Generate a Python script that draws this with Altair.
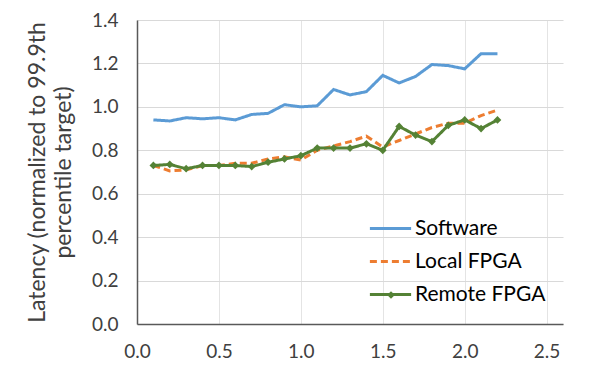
import altair as alt
import pandas as pd

x_vals = [0.1, 0.2, 0.3, 0.4, 0.5, 0.6, 0.7, 0.8, 0.9, 1.0, 1.1,
          1.2, 1.3, 1.4, 1.5, 1.6, 1.7, 1.8, 1.9, 2.0, 2.1, 2.2]
software = [0.94, 0.935, 0.95, 0.945, 0.95, 0.94, 0.965, 0.97, 1.01, 1.0, 1.005,
            1.08, 1.055, 1.07, 1.145, 1.11, 1.14, 1.195, 1.19, 1.175, 1.245, 1.245]
local_fpga = [0.73, 0.705, 0.71, 0.73, 0.73, 0.74, 0.74, 0.76, 0.77, 0.755, 0.80,
              0.82, 0.84, 0.865, 0.815, 0.845, 0.875, 0.905, 0.925, 0.925, 0.96, 0.985]
remote_fpga = [0.73, 0.735, 0.715, 0.73, 0.73, 0.73, 0.725, 0.745, 0.76, 0.775, 0.81,
               0.81, 0.81, 0.83, 0.80, 0.91, 0.87, 0.84, 0.915, 0.94, 0.90, 0.94]

series_names = ["Software", "Local FPGA", "Remote FPGA"]
series_colors = ["#5B9BD5", "#ED7D31", "#548235"]

rows = []
for name, vals in zip(series_names, [software, local_fpga, remote_fpga]):
    for xv, yv in zip(x_vals, vals):
        rows.append({"x": xv, "y": yv, "series": name})
df = pd.DataFrame(rows)

pts = df[df["series"] == "Remote FPGA"].copy()
pts["marker"] = "Remote FPGA"

FONT = "Lato"

color = alt.Color("series:N", scale=alt.Scale(domain=series_names, range=series_colors),
                  legend=alt.Legend(title=None, orient="none", legendX=231, legendY=186,
                                    symbolType="stroke", symbolSize=1700, symbolStrokeWidth=3,
                                    labelFont=FONT, labelFontSize=21, labelColor="#000000",
                                    rowPadding=-7, labelOffset=2))
dash = alt.StrokeDash("series:N", scale=alt.Scale(domain=series_names,
                                                  range=[[1, 0], [7, 4], [1, 0]]),
                      legend=None)

xenc = alt.X("x:Q", scale=alt.Scale(domain=[0, 2.5]),
             axis=alt.Axis(title=None, values=[0, 0.5, 1.0, 1.5, 2.0, 2.5], format=".1f",
                           labelFont=FONT, labelFontSize=19, labelColor="#404040",
                           ticks=False, labelPadding=18, domainColor="#595959",
                           gridColor="#E4E4E4", labelFlush=False))
yenc = alt.Y("y:Q", scale=alt.Scale(domain=[0, 1.4]),
             axis=alt.Axis(title=["Latency (normalized to 99.9th", "percentile target)"],
                           values=[0, 0.2, 0.4, 0.6, 0.8, 1.0, 1.2, 1.4], format=".1f",
                           labelFont=FONT, labelFontSize=19, labelColor="#404040",
                           titleFont=FONT, titleFontSize=23, titleFontWeight="normal",
                           titleColor="#404040", titlePadding=16, titleLineHeight=26,
                           ticks=False, labelPadding=19, domainColor="#595959",
                           gridColor="#D9D9D9"))

lines = alt.Chart(df).mark_line(strokeWidth=3).encode(
    x=xenc, y=yenc, color=color, strokeDash=dash, order=alt.Order("x:Q"))

points = alt.Chart(pts).mark_point(
    filled=True, size=60, opacity=1, color="#548235").encode(
    x="x:Q", y="y:Q",
    shape=alt.Shape("marker:N", scale=alt.Scale(domain=["Remote FPGA"], range=["diamond"]),
                    legend=alt.Legend(title=None, orient="none", legendX=249, legendY=270,
                                      labelExpr="''", symbolSize=60,
                                      symbolFillColor="#548235", symbolStrokeColor="#548235",
                                      symbolOpacity=1, padding=0)))

chart = alt.layer(lines, points).properties(
    width=426, height=304,
    autosize=alt.AutoSizeParams(type="none"),
    padding={"left": 129, "top": 12, "right": 29, "bottom": 36},
).configure_view(stroke=None).configure_axis(domainWidth=1.5)

chart.save("out.html", embed_options={"renderer": "svg", "actions": False})
